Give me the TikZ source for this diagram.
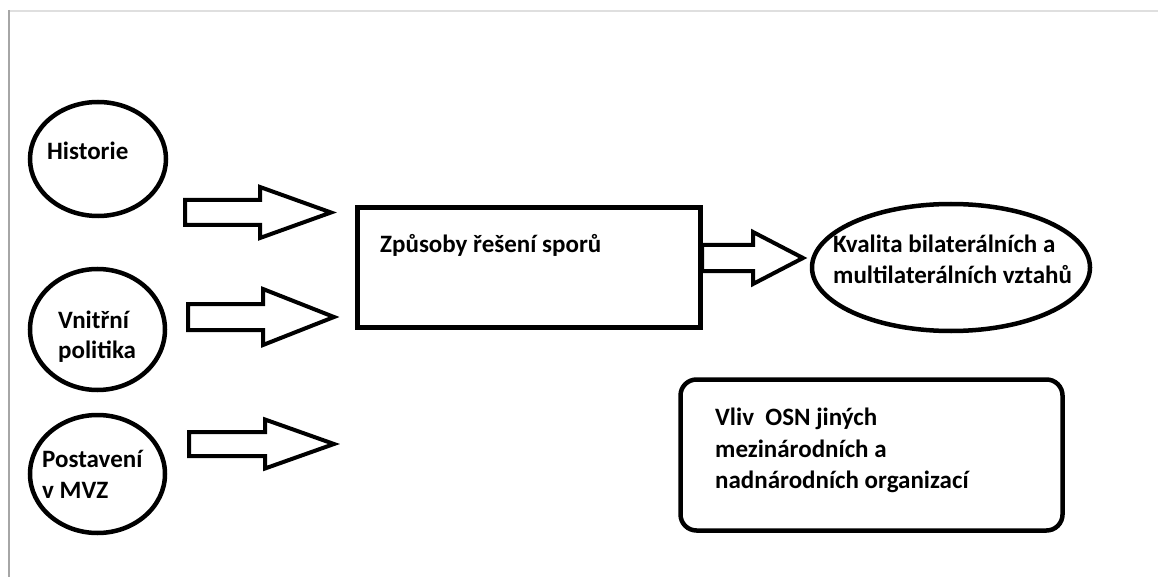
\documentclass[tikz,border=0pt]{standalone}
\usepackage{fontspec}
\setmainfont{Carlito}
\usetikzlibrary{shapes.geometric}
\tikzset{
  shapeline/.style={draw=black, line width=4.5pt},
  ovalnode/.style={shapeline, ellipse, inner sep=0pt},
  lbl/.style={anchor=base west, inner sep=0pt, font=\fontsize{25}{31}\selectfont\bfseries},
  barrow/.style={draw=black, line width=4pt, line join=miter, fill=white},
}
\newcommand\blockarrow[6]{% x0 x1 x2 yc halfshaft halfhead
  \draw[barrow] (#1,#4-#5) -- (#2,#4-#5) -- (#2,#4-#6) -- (#3,#4) -- (#2,#4+#6) -- (#2,#4+#5) -- (#1,#4+#5) -- cycle;}
\begin{document}
\begin{tikzpicture}[x=1pt,y=-1pt]
\useasboundingbox (0,0) rectangle (1158,577);
% page frame
\draw[line width=2pt, gray!25] (8,11) -- (1158,11);
\draw[line width=2pt, gray!70] (9,10) -- (9,577);
% ellipses
\node[ovalnode, minimum width=136pt, minimum height=114pt] (hist) at (98,159) {};
\node[ovalnode, minimum width=135pt, minimum height=121pt] (vnit) at (97.5,329.5) {};
\node[ovalnode, minimum width=135pt, minimum height=118pt] (post) at (97.5,474) {};
\node[ovalnode, minimum width=278pt, minimum height=127pt] (kval) at (951,267.5) {};
% rectangle
\node[shapeline, rectangle, inner sep=0pt, minimum width=343pt, minimum height=120pt] (zpus) at (529,267.5) {};
% rounded box
\node[shapeline, rectangle, rounded corners=16pt, inner sep=0pt, minimum width=382pt, minimum height=151pt] (vliv) at (871.5,455) {};
% labels
\node[lbl] (thist) at (47,160) {Historie};
\node[lbl] (tvnit1) at (58,328) {Vnitřní};
\node[lbl] (tvnit2) at (58,358) {politika};
\node[lbl] (tpost1) at (42,467) {Postavení};
\node[lbl] (tpost2) at (42,498) {v MVZ};
\node[lbl] (tzpus) at (380,252) {Způsoby řešení sporů};
\node[lbl] (tkval1) at (833,252) {Kvalita bilaterálních a};
\node[lbl] (tkval2) at (833,283) {multilaterálních vztahů};
\node[lbl] (tvliv1) at (715,425) {Vliv\ \ OSN jiných};
\node[lbl] (tvliv2) at (715,457) {mezinárodních a};
\node[lbl] (tvliv3) at (715,488) {nadnárodních organizací};
% block arrows
\blockarrow{185}{260}{331}{212.5}{12.5}{25.5}
\blockarrow{188}{263}{334}{317}{13}{28}
\blockarrow{189}{265}{334}{444}{12}{24.5}
\blockarrow{702}{753}{803}{258}{13}{26}
\end{tikzpicture}
\end{document}
